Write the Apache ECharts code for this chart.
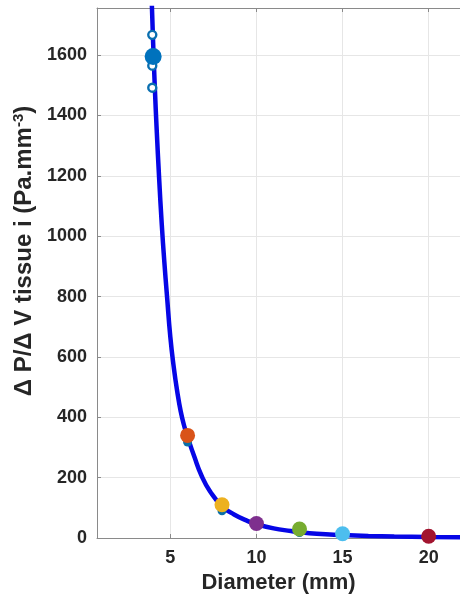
<!DOCTYPE html>
<html>
<head>
<meta charset="utf-8">
<script src="https://cdn.jsdelivr.net/npm/echarts@6/dist/echarts.min.js"></script>
<style>
html,body{margin:0;padding:0;background:#fff;}
#chart{width:460px;height:603px;}
</style>
</head>
<body>
<div id="chart"></div>
<script>
// Fitted curve
var curveD = [3.9, 4.0, 4.1, 4.2, 4.35, 4.5, 4.65, 4.8, 5.0, 5.2, 5.4, 5.6, 5.8, 6.0, 6.4, 6.8, 7.3, 8.0, 8.7, 9.5, 10.0, 11.0, 12.0, 12.5, 13.5, 15.0, 16.5, 18.0, 20.0, 22.0];
var curveV = [1810, 1640, 1490, 1360, 1190, 1040, 915, 805, 665, 565, 485, 420, 372, 335, 268, 208, 155, 105, 78, 56, 46, 32, 23, 19, 14, 10, 7, 5, 3.5, 2.5];

// Coloured mean points
var dotsD = [4, 6, 8, 10, 12.5, 15, 20];
var dotsV = [1595, 340, 110, 48, 30, 14, 6];
var dotColors = ['#0072BD', '#D95319', '#EDB120', '#7E2F8E', '#77AC30', '#4DBEEE', '#A2142F'];

// Individual samples (open circles at d = 4)
var openD = [3.95, 3.95, 3.95];
var openV = [1667, 1565, 1492];

// Small filled samples hidden under the coloured points
var smallD = [6, 8, 12.5];
var smallV = [318, 90, 18];

// Axis ticks
var xTicks = [5, 10, 15, 20];
var yInterval = 200;

var font = '"Liberation Sans", Arial, Helvetica, sans-serif';

function pairs(a, b) { return a.map(function (v, i) { return [v, b[i]]; }); }

var chart = echarts.init(document.getElementById('chart'), null, {renderer: 'canvas'});
var xMin = 0.74, xMax = 21.82;
var option = {
  animation: false,
  backgroundColor: '#ffffff',
  grid: {left: 97, right: -1, top: 8, bottom: 65, containLabel: false},
  xAxis: [{
    type: 'value', min: xMin, max: xMax, position: 'bottom',
    name: 'Diameter (mm)', nameLocation: 'middle', nameGap: 33,
    nameTextStyle: {fontFamily: font, fontWeight: 'bold', fontSize: 22, color: '#262626'},
    axisLine: {show: true, onZero: false, lineStyle: {color: '#8a8a8a', width: 1}},
    axisTick: {show: true, inside: true, length: 4, customValues: xTicks, lineStyle: {color: '#8a8a8a'}},
    axisLabel: {show: true, customValues: xTicks, margin: 11, fontFamily: font, fontWeight: 'bold', fontSize: 18, color: '#262626'},
    splitLine: {show: false}
  }, {
    type: 'value', min: xMin, max: xMax, position: 'top',
    axisLine: {show: true, onZero: false, lineStyle: {color: '#8a8a8a', width: 1}},
    axisTick: {show: true, inside: true, length: 4, customValues: xTicks, lineStyle: {color: '#8a8a8a'}},
    axisLabel: {show: false},
    splitLine: {show: false}
  }],
  yAxis: {
    type: 'value', min: 0, max: 1756, interval: yInterval,
    name: 'Δ P/Δ V tissue i (Pa.mm{sup|-3})', nameLocation: 'middle', nameRotate: 90, nameGap: 40,
    nameTextStyle: {fontFamily: font, fontWeight: 'bold', fontSize: 24, color: '#262626', padding: [0, 0, 0, 44],
      rich: {sup: {fontFamily: font, fontWeight: 'bold', fontSize: 15, color: '#262626', verticalAlign: 'top', padding: [0, 0, 11, 0]}}},
    axisLine: {show: true, lineStyle: {color: '#8a8a8a', width: 1}},
    axisTick: {show: true, inside: true, length: 4, lineStyle: {color: '#8a8a8a'}},
    axisLabel: {showMaxLabel: false, margin: 10, fontFamily: font, fontWeight: 'bold', fontSize: 18, color: '#262626',
      formatter: function (v) { return String(v); }},
    splitLine: {show: true, lineStyle: {color: '#e6e6e6', width: 1}}
  },
  series: [{
    type: 'line', xAxisIndex: 0, data: pairs(curveD, curveV), smooth: true, showSymbol: false,
    lineStyle: {color: '#0606e6', width: 4.5}, z: 2, silent: true,
    markLine: {
      silent: true, symbol: 'none', label: {show: false},
      lineStyle: {color: '#e6e6e6', width: 1, type: 'solid'},
      data: xTicks.map(function (v) { return {xAxis: v}; }),
      z: 0
    }
  }, {
    type: 'scatter', data: pairs(smallD, smallV), symbolSize: 9,
    itemStyle: {color: '#0a6fa8', opacity: 1}, z: 3, silent: true
  }, {
    type: 'scatter', data: pairs(openD, openV), symbolSize: 8,
    itemStyle: {color: '#ffffff', borderColor: '#0a6fb0', borderWidth: 2.4, opacity: 1}, z: 4, silent: true
  }, {
    type: 'scatter', symbolSize: 15, z: 5, silent: true,
    data: dotsD.map(function (d, i) { return {value: [d, dotsV[i]], symbolSize: i === 0 ? 17 : 15, itemStyle: {color: dotColors[i], opacity: 1}}; })
  }]
};
chart.setOption(option);
</script>
</body>
</html>
